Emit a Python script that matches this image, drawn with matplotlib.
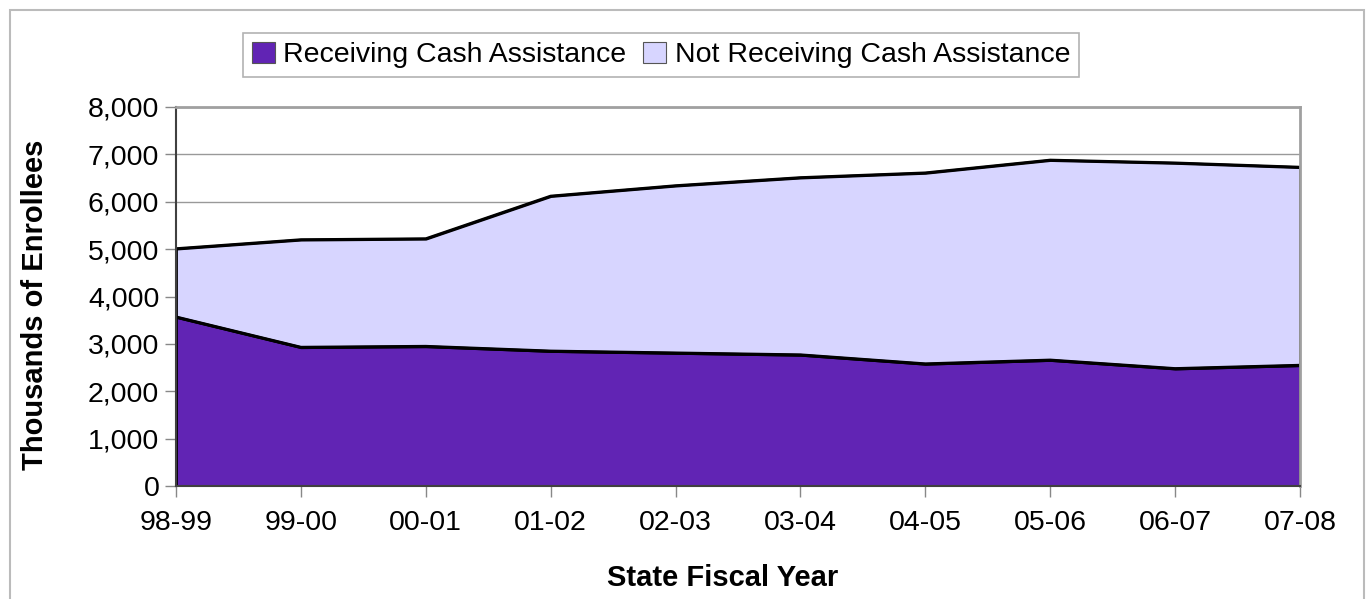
import matplotlib.pyplot as plt
from matplotlib.patches import Rectangle
from matplotlib.ticker import FuncFormatter

# Data (thousands of enrollees)
years = ['98-99', '99-00', '00-01', '01-02', '02-03', '03-04', '04-05', '05-06', '06-07', '07-08']
receiving = [3570, 2930, 2950, 2850, 2810, 2770, 2580, 2660, 2480, 2550]
total = [5010, 5200, 5220, 6120, 6340, 6510, 6610, 6880, 6820, 6730]
not_receiving = [t - r for t, r in zip(total, receiving)]

plt.rcParams['font.family'] = ['Liberation Sans', 'DejaVu Sans']

W, H = 1367, 599
fig = plt.figure(figsize=(W / 100, H / 100), dpi=100)
ax = fig.add_axes([176 / W, 1 - 486 / H, (1300 - 176) / W, (486 - 107) / H])

x = list(range(len(years)))
ax.stackplot(x, receiving, not_receiving,
             colors=['#6124b4', '#d7d5ff'],
             labels=['Receiving Cash Assistance', 'Not Receiving Cash Assistance'],
             edgecolor='black', linewidth=2)
ax.plot(x, receiving, color='black', lw=2)
ax.plot(x, total, color='black', lw=2)

ax.set_xlim(0, len(years) - 1)
ax.set_ylim(0, 8000)
ax.set_yticks(range(0, 8001, 1000))
ax.yaxis.set_major_formatter(FuncFormatter(lambda v, p: f'{int(v):,}'))
ax.set_xticks(x)
ax.set_xticklabels(years)
ax.grid(axis='y', color='#999999', lw=1)
ax.set_axisbelow(True)

ax.tick_params(axis='both', labelsize=20.5, color='#888888', length=8, width=1)
ax.tick_params(axis='x', pad=9)
ax.tick_params(axis='y', pad=4)
for side in ['top', 'right']:
    ax.spines[side].set_color('#a0a0a0')
    ax.spines[side].set_linewidth(2)
for side in ['left', 'bottom']:
    ax.spines[side].set_color('#404040')
    ax.spines[side].set_linewidth(1.5)

fig.text(35 / W, 1 - 305 / H, 'Thousands of Enrollees', rotation=90,
         ha='center', va='center', fontsize=21, fontweight='bold')
fig.text(723 / W, 1 - 578 / H, 'State Fiscal Year',
         ha='center', va='center', fontsize=21, fontweight='bold')

leg = fig.legend(loc='center', bbox_to_anchor=(661 / W, 1 - 55 / H), ncol=2,
                 fontsize=20.5, frameon=True, fancybox=False, edgecolor='#a0a0a0',
                 handlelength=0.8, handleheight=0.8, handletextpad=0.3,
                 columnspacing=0.6, borderpad=0.3)
leg.get_frame().set_linewidth(1.2)
for h in leg.legend_handles:
    h.set_edgecolor('#555555')
    h.set_linewidth(0.8)

# outer chart border
fig.patches.append(Rectangle((10 / W, -0.1), (1364 - 10) / W, 1.1 - 10 / H,
                             transform=fig.transFigure, fill=False,
                             edgecolor='#bbbbbb', lw=1.5))

fig.savefig('out.png', dpi=100)
